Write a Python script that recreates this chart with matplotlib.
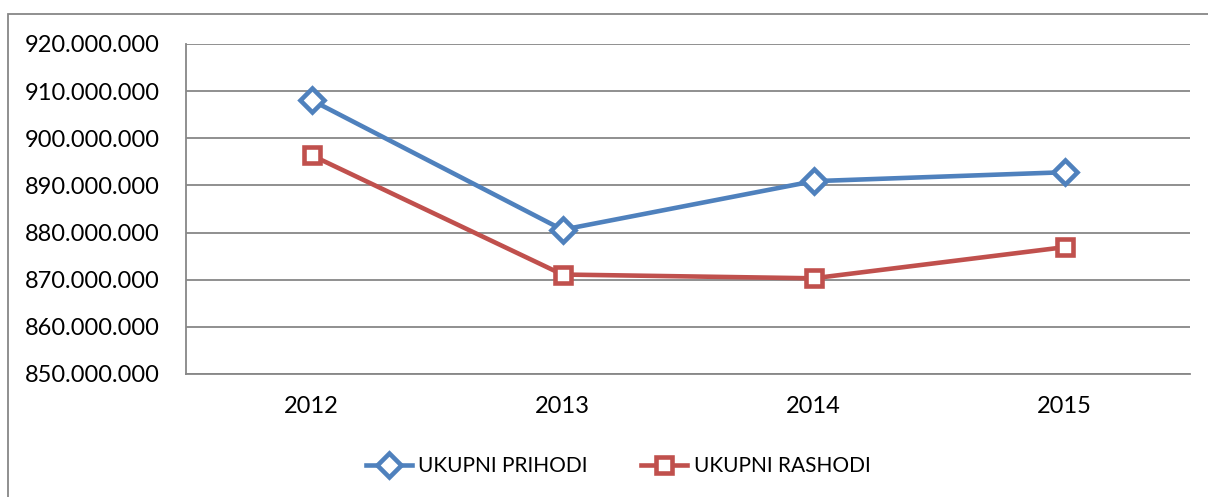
import matplotlib.pyplot as plt
from matplotlib.patches import Rectangle
from matplotlib.ticker import FuncFormatter

years = ['2012', '2013', '2014', '2015']
prihodi = [908.1e6, 880.6e6, 890.9e6, 892.8e6]
rashodi = [896.4e6, 871.1e6, 870.3e6, 876.9e6]

blue = '#4F81BD'
red = '#C0504D'
grid = '#878787'

plt.rcParams['font.family'] = ['Lato', 'DejaVu Sans']

W, H = 1208, 497
fig = plt.figure(figsize=(W / 100, H / 100), dpi=100)
ax = fig.add_axes([186 / W, 1 - 374 / H, (1190 - 186) / W, (374 - 44) / H])

# outer chart border (runs off the right and bottom edge)
fig.patches.append(Rectangle((8 / W, -0.05), 1.1, 1 - 14 / H + 0.05,
                             transform=fig.transFigure, fill=False,
                             edgecolor=grid, linewidth=1.3))

x = range(len(years))
ax.plot(x, prihodi, color=blue, lw=3.3, marker='D', ms=12, mfc='white',
        mec=blue, mew=3.3, label='UKUPNI PRIHODI', zorder=3)
ax.plot(x, rashodi, color=red, lw=3.3, marker='s', ms=11.5, mfc='white',
        mec=red, mew=3.3, label='UKUPNI RASHODI', zorder=3)

ax.set_xlim(-0.5, 3.5)
ax.set_ylim(850e6, 920e6)
ax.set_yticks([850e6 + i * 10e6 for i in range(8)])
ax.yaxis.set_major_formatter(FuncFormatter(lambda v, p: f'{int(round(v)):,}'.replace(',', '.')))
ax.set_xticks(list(x))
ax.set_xticklabels(years)
ax.grid(axis='y', color=grid, lw=1.3)
ax.set_axisbelow(True)
for s in ['top', 'right']:
    ax.spines[s].set_visible(False)
for s in ['left', 'bottom']:
    ax.spines[s].set_color(grid)
    ax.spines[s].set_linewidth(1.3)
ax.tick_params(length=0, labelsize=17)
ax.tick_params(axis='y', pad=19)
ax.tick_params(axis='x', pad=16)

fig.legend(loc='center', bbox_to_anchor=(618 / W, 1 - 466 / H), ncol=2,
           frameon=False, fontsize=15, handlelength=2.2, columnspacing=2.6,
           handletextpad=0.3)

fig.savefig('out.png', dpi=100)
